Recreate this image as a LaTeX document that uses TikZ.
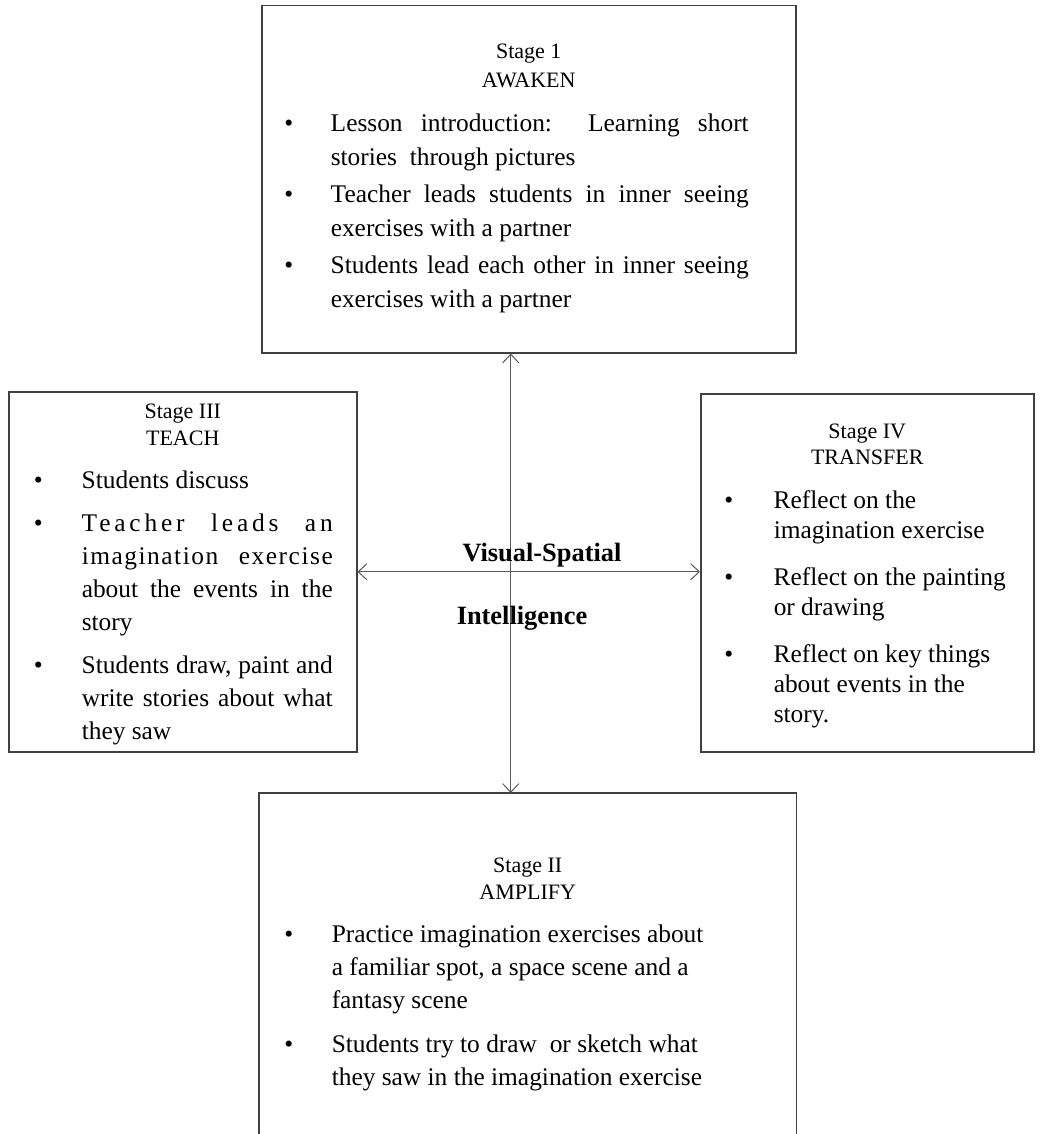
\documentclass[tikz,border=0pt]{standalone}
\usepackage{fontspec}
\setmainfont{Liberation Serif}
\usetikzlibrary{arrows.meta,positioning,calc}

\newlength{\bulx}  % where the bullet starts
\newlength{\txtx}  % where the text starts
\newlength{\ptgap} % extra space before a point
\newcommand{\stagehead}[3]{\vspace*{#1}%
  {\centering\fontsize{11pt}{#2}\selectfont #3\par}}
\newcommand{\stagebody}[5]{% bullet, text, right margin, gap, line skip
  \setlength{\bulx}{#1}\setlength{\txtx}{#2}\setlength{\ptgap}{#4}%
  \fontsize{12.7pt}{#5}\selectfont
  \leftskip=\txtx \rightskip=#3 \parindent=0pt}
\newcommand{\point}[2][\ptgap]{\par\vspace{#1}%
  \noindent\llap{\makebox[\dimexpr\txtx-\bulx\relax][l]{\textbullet}}#2\par}

\begin{document}
\begin{tikzpicture}[x=1pt, y=1pt,
    stagebox/.style={draw=black!75, line width=0.75pt, inner sep=0pt,
                     anchor=north west},
    openbox/.style={stagebox, draw=none},
    arr/.style={{Straight Barb[length=4.3pt,width=8pt]}-{Straight Barb[length=4.3pt,width=8pt]},
                line width=0.5pt, black!65},
    centre/.style={anchor=base, inner sep=0pt,
                   font=\fontsize{13.2pt}{15pt}\selectfont\bfseries}]
  \useasboundingbox (0,0) rectangle (520.5,-567);

  % stage 1
  \node[stagebox] (awaken) at (130.5,-2.5) {\parbox[c][173.5pt][t]{267pt}{%
    \stagehead{19pt}{14.5pt}{Stage 1\\AWAKEN}%
    \stagebody{11.25pt}{34.5pt}{23.5pt}{1.5pt}{17pt}%
    \point[5pt]{Lesson introduction:\ \ Learning short\linebreak stories\ \ through pictures}
    \point{Teacher leads students in inner seeing\linebreak exercises with a partner}
    \point{Students lead each other in inner seeing\linebreak exercises with a partner}}};

  % stage III
  \node[stagebox] (teach) at (4,-195.5) {\parbox[c][180pt][t]{174pt}{%
    \stagehead{6pt}{13.5pt}{Stage III\\TEACH}%
    \stagebody{12.5pt}{36.5pt}{12pt}{5pt}{16.5pt}%
    \point[5pt]{Students discuss}
    \point{{\addfontfeature{LetterSpace=15}Teacher leads an}\linebreak
      {\addfontfeature{LetterSpace=6}imagination exercise}\linebreak
      about the events in the\linebreak story}
    \point{Students draw, paint and\linebreak write stories about what\linebreak they saw}}};

  % stage IV
  \node[stagebox] (transfer) at (350,-196.5) {\parbox[c][179pt][t]{166.5pt}{%
    \stagehead{15pt}{13pt}{Stage IV\\TRANSFER}%
    \stagebody{11.75pt}{36.5pt}{5pt}{8.5pt}{15pt}%
    \point[7pt]{Reflect on the\\imagination exercise}
    \point{Reflect on the painting\\or drawing}
    \point{Reflect on key things\\about events in the\\story.}}};

  % stage II, cut off at the bottom
  \node[openbox] (amplify) at (129.5,-396.5) {\parbox[c][170.5pt][t]{268pt}{%
    \stagehead{32pt}{13.5pt}{Stage II\\AMPLIFY}%
    \stagebody{12.25pt}{36pt}{5pt}{5.5pt}{16.5pt}%
    \point[5pt]{Practice imagination exercises about\\a familiar spot, a space scene and a\\fantasy scene}
    \point{Students try to draw\ \ or sketch what\\they saw in the imagination exercise}}};
  \draw[draw=black!75, line width=0.75pt] (amplify.south west) -- (amplify.north west)
    -- (amplify.north east) -- (amplify.south east);

  \draw[arr] ([xshift=-9pt]awaken.south) -- ([xshift=-9pt]awaken.south |- amplify.north);
  \draw[arr] (teach.east) -- (teach.east -| transfer.west);

  \node[centre] (vsp) at (271,-280.5) {Visual-Spatial};
  \node[centre] (intel) at (261,-312) {Intelligence};
\end{tikzpicture}
\end{document}
